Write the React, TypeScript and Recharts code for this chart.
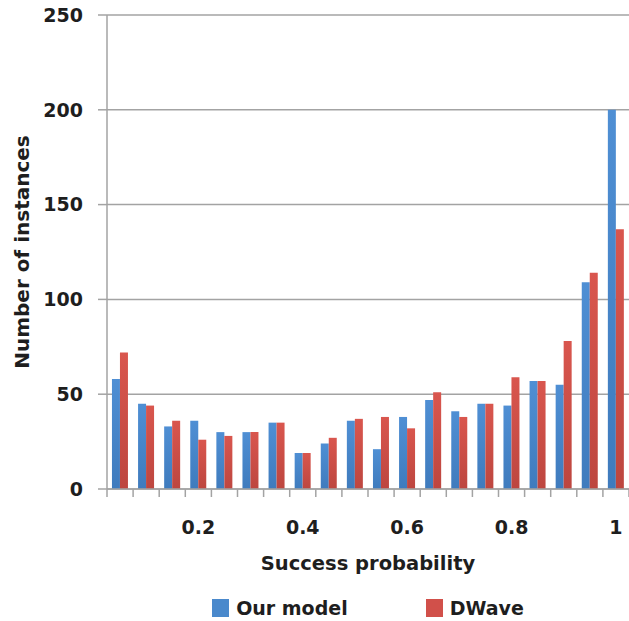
import React from 'react';
import { BarChart, Bar, XAxis, YAxis, CartesianGrid, Legend } from 'recharts';

const categories = ['0.05', '0.1', '0.15', '0.2', '0.25', '0.3', '0.35', '0.4', '0.45', '0.5', '0.55', '0.6', '0.65', '0.7', '0.75', '0.8', '0.85', '0.9', '0.95', '1'];
const ourModel = [58, 45, 33, 36, 30, 30, 35, 19, 24, 36, 21, 38, 47, 41, 45, 44, 57, 55, 109, 200];
const dwave = [72, 44, 36, 26, 28, 30, 35, 19, 27, 37, 38, 32, 51, 38, 45, 59, 57, 78, 114, 137];
const xTickLabels = ['0.2', '0.4', '0.6', '0.8', '1'];
const yTicks = [0, 50, 100, 150, 200, 250];

const data = categories.map((c, i) => ({ p: c, ours: ourModel[i], dwave: dwave[i] }));

const W = 629;
const H = 621;
const MARGIN = { top: 15, right: 0, left: 0, bottom: 0 };
const Y_AXIS_W = 107;
const X_AXIS_H = 92;
const LEGEND_H = 40;
const BAND = (W - MARGIN.left - MARGIN.right - Y_AXIS_W) / categories.length;

const FONT = '"DejaVu Sans", sans-serif';
const TEXT_COLOR = '#1e1e1e';
const AXIS_COLOR = '#a3a3a3';
const BLUE = '#4a89cc';
const RED = '#d1504a';

const XTick = (props: any) => {
  const { x, y, payload, index } = props;
  const half = BAND / 2;
  const show = xTickLabels.includes(payload.value);
  return (
    <g>
      <line x1={x - half} x2={x - half} y1={y} y2={y + 8} stroke={AXIS_COLOR} strokeWidth={1.5} />
      {index === categories.length - 1 && (
        <line x1={x + half} x2={x + half} y1={y} y2={y + 8} stroke={AXIS_COLOR} strokeWidth={1.5} />
      )}
      {show && (
        <text x={x} y={y + 45} textAnchor="middle" fontFamily={FONT} fontWeight="bold" fontSize={19} fill={TEXT_COLOR}>
          {payload.value}
        </text>
      )}
    </g>
  );
};

const YTitle = (props: any) => {
  const { viewBox } = props;
  const cx = viewBox.x + 22;
  const cy = viewBox.y + viewBox.height / 2;
  return (
    <text x={cx} y={cy} transform={`rotate(-90, ${cx}, ${cy})`} textAnchor="middle" dominantBaseline="central"
      fontFamily={FONT} fontWeight="bold" fontSize={20} fill={TEXT_COLOR}>
      Number of instances
    </text>
  );
};

const XTitle = (props: any) => {
  const { viewBox } = props;
  const cx = viewBox.x + viewBox.width / 2;
  return (
    <text x={cx} y={viewBox.y + 81} textAnchor="middle" fontFamily={FONT} fontWeight="bold" fontSize={19.5} fill={TEXT_COLOR}>
      Success probability
    </text>
  );
};

const LegendContent = () => (
  <div style={{ display: 'flex', justifyContent: 'center', alignItems: 'center', gap: 78, paddingTop: 16, fontFamily: FONT, fontWeight: 'bold', fontSize: 19, color: TEXT_COLOR }}>
    <div style={{ display: 'flex', alignItems: 'center', gap: 7 }}>
      <span style={{ display: 'inline-block', width: 17, height: 18, background: BLUE }} />
      <span>Our model</span>
    </div>
    <div style={{ display: 'flex', alignItems: 'center', gap: 7 }}>
      <span style={{ display: 'inline-block', width: 17, height: 18, background: RED }} />
      <span>DWave</span>
    </div>
  </div>
);

export default function App() {
  return (
    <div style={{ position: 'absolute', left: 0, top: 0, width: W, height: H, background: '#fff' }}>
      <BarChart width={W} height={H} data={data} margin={MARGIN} barCategoryGap="19%" barGap={0}>
        <defs>
          <linearGradient id="gBlue" x1="0" y1="0" x2="0" y2="1">
            <stop offset="0%" stopColor="#4f8fd4" />
            <stop offset="100%" stopColor="#3f7bbd" />
          </linearGradient>
          <linearGradient id="gRed" x1="0" y1="0" x2="0" y2="1">
            <stop offset="0%" stopColor="#d9564e" />
            <stop offset="100%" stopColor="#bd463f" />
          </linearGradient>
        </defs>
        <CartesianGrid vertical={false} stroke={AXIS_COLOR} strokeWidth={1.5} />
        <XAxis dataKey="p" type="category" height={X_AXIS_H} interval={0} tickLine={false} tickSize={0} tickMargin={0}
          axisLine={{ stroke: AXIS_COLOR, strokeWidth: 1.5 }} tick={<XTick />} label={<XTitle />} />
        <YAxis domain={[0, 250]} ticks={yTicks} width={Y_AXIS_W} tickSize={9} tickMargin={15}
          axisLine={{ stroke: AXIS_COLOR, strokeWidth: 1.5 }} tickLine={{ stroke: AXIS_COLOR, strokeWidth: 1.5 }}
          tick={{ fontFamily: FONT, fontWeight: 'bold', fontSize: 19, fill: TEXT_COLOR }} label={<YTitle />} />
        <Legend verticalAlign="bottom" height={LEGEND_H} content={<LegendContent />}
          wrapperStyle={{ left: Y_AXIS_W, width: W - Y_AXIS_W }} />
        <Bar dataKey="ours" name="Our model" fill="url(#gBlue)" isAnimationActive={false} />
        <Bar dataKey="dwave" name="DWave" fill="url(#gRed)" isAnimationActive={false} />
      </BarChart>
    </div>
  );
}
